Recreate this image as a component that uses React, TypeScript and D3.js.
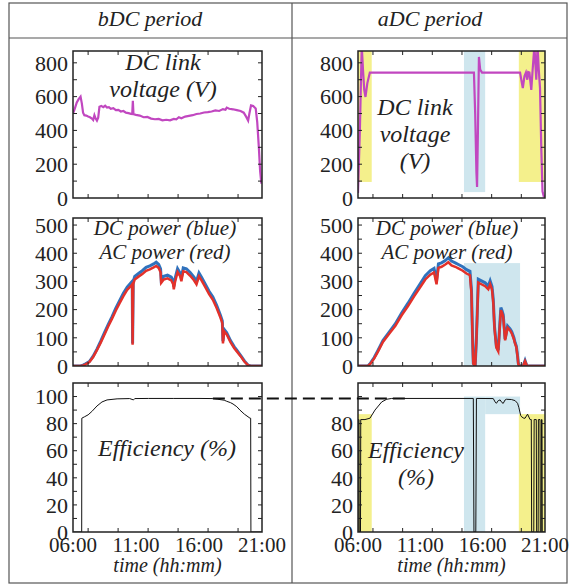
import React from 'react';
import * as d3 from 'd3';

// time axis
const timeTickHours = [6, 11, 16, 21];
const timeTickLabels = ['06:00', '11:00', '16:00', '21:00'];
const timeMinorHours = [7.2, 9.58, 11.96, 14.34, 16.72, 19.1];

// DC link voltage (V)
const bdcVoltage: [number, number][] = [
  [6.0, 500], [6.15, 530], [6.3, 565], [6.45, 585], [6.6, 600], [6.7, 560], [6.8, 505], [6.9, 490],
  [7.05, 488], [7.2, 482], [7.35, 478], [7.5, 470], [7.6, 462], [7.7, 490], [7.8, 470], [7.9, 458],
  [8.0, 475], [8.1, 540], [8.25, 545], [8.4, 538], [8.55, 546], [8.7, 535], [8.85, 538], [9.0, 528],
  [9.2, 532], [9.4, 520], [9.6, 522], [9.8, 512], [10.0, 515], [10.2, 505], [10.4, 502], [10.6, 498],
  [10.7, 497], [10.75, 575], [10.8, 496], [11.0, 492], [11.3, 488], [11.6, 478], [11.9, 480], [12.2, 470],
  [12.5, 466], [12.8, 468], [13.1, 460], [13.4, 463], [13.7, 460], [14.0, 468], [14.2, 466], [14.4, 478],
  [14.6, 472], [14.9, 482], [15.2, 486], [15.5, 490], [15.8, 497], [16.1, 500], [16.4, 506], [16.7, 508],
  [17.0, 512], [17.3, 518], [17.6, 515], [17.9, 526], [18.1, 522], [18.2, 535], [18.4, 528], [18.7, 525],
  [19.0, 520], [19.3, 515], [19.55, 505], [19.75, 480], [19.9, 458], [20.0, 500], [20.13, 548], [20.3, 545],
  [20.5, 530], [20.62, 450], [20.75, 300], [20.85, 160], [20.95, 85],
];
const adcVoltage: [number, number][] = [
  [6.0, 30], [6.15, 400], [6.3, 900], [6.4, 760], [6.5, 640], [6.6, 598], [6.75, 680], [6.95, 742],
  [7.2, 742], [15.3, 742], [15.4, 500], [15.5, 150], [15.55, 65], [15.62, 400], [15.7, 835], [15.8, 760],
  [15.95, 742], [19.0, 742], [19.1, 700], [19.22, 650], [19.35, 720], [19.47, 742], [19.58, 700],
  [19.65, 745], [19.75, 742], [19.9, 640], [20.0, 750], [20.15, 900], [20.3, 700], [20.4, 900],
  [20.5, 760], [20.6, 650], [20.7, 300], [20.8, 40], [20.9, 10], [21.0, 10],
];

// DC (blue) and AC (red) power (W)
const bdcPowerDC: [number, number][] = [
  [6.0, 0], [6.6, 0], [6.8, 3], [7.0, 8], [7.3, 16], [7.6, 35], [7.9, 60], [8.2, 88], [8.5, 118],
  [8.8, 148], [9.1, 175], [9.4, 205], [9.7, 232], [10.0, 258], [10.3, 280], [10.6, 295], [10.7, 300],
  [10.73, 80], [10.78, 300], [10.9, 318], [11.2, 328], [11.5, 338], [11.8, 350], [12.1, 355], [12.4, 362],
  [12.6, 368], [12.8, 360], [12.95, 345], [13.0, 305], [13.2, 318], [13.5, 322], [13.8, 315], [13.95, 300],
  [14.0, 282], [14.1, 310], [14.3, 345], [14.5, 330], [14.6, 312], [14.75, 348], [15.0, 345], [15.3, 332],
  [15.6, 315], [15.8, 300], [16.0, 330], [16.2, 315], [16.5, 290], [16.8, 265], [17.1, 245], [17.4, 215],
  [17.7, 180], [17.85, 160], [17.9, 88], [18.0, 130], [18.2, 118], [18.5, 90], [18.8, 68], [19.0, 56],
  [19.3, 38], [19.6, 18], [19.9, 3], [20.1, 0], [21.0, 0],
];
const bdcPowerAC: [number, number][] = [
  [6.0, 0], [6.6, 0], [6.8, 2], [7.0, 6], [7.3, 14], [7.6, 32], [7.9, 56], [8.2, 83], [8.5, 112],
  [8.8, 141], [9.1, 168], [9.4, 197], [9.7, 223], [10.0, 248], [10.3, 270], [10.6, 284], [10.7, 290],
  [10.73, 75], [10.78, 290], [10.9, 307], [11.2, 317], [11.5, 326], [11.8, 338], [12.1, 343], [12.4, 350],
  [12.6, 355], [12.8, 348], [12.95, 333], [13.0, 295], [13.2, 307], [13.5, 311], [13.8, 304], [13.95, 290],
  [14.0, 272], [14.1, 299], [14.3, 333], [14.5, 319], [14.6, 301], [14.75, 336], [15.0, 333], [15.3, 320],
  [15.6, 304], [15.8, 290], [16.0, 318], [16.2, 304], [16.5, 280], [16.8, 255], [17.1, 235], [17.4, 206],
  [17.7, 172], [17.85, 152], [17.9, 80], [18.0, 123], [18.2, 112], [18.5, 85], [18.8, 63], [19.0, 52],
  [19.3, 35], [19.6, 16], [19.9, 2], [20.1, 0], [21.0, 0],
];
const adcPowerDC: [number, number][] = [
  [6.0, 0], [6.8, 0], [7.0, 10], [7.3, 30], [7.6, 55], [8.0, 90], [8.5, 120], [9.0, 150], [9.5, 188],
  [10.0, 222], [10.5, 258], [11.0, 292], [11.4, 320], [11.8, 338], [12.1, 346], [12.3, 302], [12.45, 362],
  [12.7, 366], [13.0, 374], [13.25, 384], [13.5, 372], [13.8, 366], [14.05, 360], [14.4, 352], [14.7, 342],
  [14.98, 336], [15.1, 272], [15.2, 80], [15.25, 10], [15.4, 0], [15.5, 100], [15.65, 308], [15.9, 302],
  [16.2, 295], [16.45, 284], [16.6, 302], [16.75, 282], [16.85, 236], [16.95, 140], [17.1, 70], [17.25, 56],
  [17.38, 152], [17.46, 207], [17.55, 197], [17.65, 182], [17.8, 96], [18.0, 142], [18.2, 132], [18.33, 122],
  [18.5, 101], [18.6, 83], [18.7, 71], [18.8, 36], [18.86, 9], [18.95, 0], [19.25, 0], [19.4, 19],
  [19.55, 0], [21.0, 0],
];
const adcPowerAC: [number, number][] = [
  [6.0, 0], [6.8, 0], [7.0, 8], [7.3, 27], [7.6, 51], [8.0, 85], [8.5, 114], [9.0, 143], [9.5, 180],
  [10.0, 212], [10.5, 247], [11.0, 280], [11.4, 307], [11.8, 324], [12.1, 332], [12.3, 290], [12.45, 348],
  [12.7, 352], [13.0, 360], [13.25, 368], [13.5, 357], [13.8, 352], [14.05, 346], [14.4, 338], [14.7, 328],
  [14.98, 322], [15.1, 260], [15.2, 75], [15.25, 8], [15.4, 0], [15.5, 95], [15.65, 296], [15.9, 290],
  [16.2, 283], [16.45, 272], [16.6, 290], [16.75, 271], [16.85, 226], [16.95, 133], [17.1, 65], [17.25, 52],
  [17.38, 145], [17.46, 198], [17.55, 189], [17.65, 174], [17.8, 91], [18.0, 136], [18.2, 126], [18.33, 116],
  [18.5, 96], [18.6, 79], [18.7, 67], [18.8, 33], [18.86, 7], [18.95, 0], [19.25, 0], [19.4, 17],
  [19.55, 0], [21.0, 0],
];

// efficiency (%)
const bdcEfficiency: [number, number][] = [
  [6.0, 0], [6.69, 0], [6.7, 84], [6.9, 85], [7.2, 86.5], [7.5, 89], [7.9, 93], [8.3, 96], [8.7, 97.5],
  [9.5, 98.3], [10.5, 98.5], [10.8, 97.5], [10.9, 98.5], [12.0, 98.6], [14.0, 98.6], [16.0, 98.6],
  [17.1, 98.5], [17.5, 98], [18.0, 97.3], [18.2, 96.5], [18.5, 95.5], [18.7, 94.5], [19.0, 92.5],
  [19.25, 90], [19.6, 87], [20.05, 84], [20.1, 84], [20.12, 0], [21.0, 0],
];
const adcEfficiency: [number, number][] = [
  [6.0, 0], [6.02, 83], [6.08, 83], [6.1, 0], [6.2, 0], [6.22, 83], [6.56, 83], [6.96, 84], [7.36, 90],
  [7.9, 96], [8.3, 98], [8.7, 98.6], [15.25, 98.6], [15.3, 0], [15.45, 0], [15.5, 98.6], [16.85, 98.5],
  [17.0, 96], [17.1, 95], [17.25, 97], [17.4, 97.5], [17.55, 95.5], [17.65, 95], [17.8, 97.5], [17.9, 98],
  [18.3, 97.8], [18.6, 97], [18.8, 95], [18.9, 92], [19.05, 86], [19.13, 85], [19.3, 84], [19.4, 84],
  [19.6, 87], [19.8, 83], [19.9, 83], [19.93, 0], [20.1, 0], [20.13, 83], [20.3, 83], [20.33, 0],
  [20.45, 0], [20.47, 83], [20.6, 83], [20.62, 0], [20.7, 0], [20.72, 83], [20.76, 83], [20.78, 0], [21.0, 0],
];
const efficiencyReference = 98.6;

// shaded periods in the aDC column (hours)
const yellowSpans: [number, number][] = [[6.0, 7.1], [18.9, 21.0]];
const blueSpan: [number, number] = [14.5, 16.2];
const blueBandEnd = 19.0;

const FONT = 'Liberation Serif, Tinos, Times New Roman, Times, serif';
const INK = '#222';
const MAGENTA = '#c147c0';
const BLUE = '#2f72bd';
const RED = '#e3312a';
const YELLOW = '#f4f08c';
const LIGHTBLUE = '#cfe6ee';

const cols = [{ x0: 73, x1: 262 }, { x0: 358, x1: 545 }];
const rows = [
  { y0: 51, y1: 198, max: 870, labels: [0, 200, 400, 600, 800], step: 100 },
  { y0: 218, y1: 366, max: 525, labels: [0, 100, 200, 300, 400, 500], step: 50 },
  { y0: 383, y1: 532, max: 110, labels: [0, 20, 40, 60, 80, 100], step: 10 },
];

function Frame({ c, r, id, labels, xLabels, children }: any) {
  const x = d3.scaleLinear().domain([6, 21]).range([c.x0, c.x1]);
  const y = d3.scaleLinear().domain([0, r.max]).range([r.y1, r.y0]);
  const minor = d3.range(r.step, r.max, r.step);
  const tl = 4;
  return (
    <g>
      <clipPath id={id}>
        <rect x={c.x0} y={r.y0} width={c.x1 - c.x0} height={r.y1 - r.y0} />
      </clipPath>
      <g clipPath={`url(#${id})`}>{children(x, y)}</g>
      <rect x={c.x0} y={r.y0} width={c.x1 - c.x0} height={r.y1 - r.y0} fill="none" stroke={INK} strokeWidth={1.5} />
      {minor.map((v: number) => (
        <g key={'m' + v}>
          <line x1={c.x0} x2={c.x0 + tl} y1={y(v)} y2={y(v)} stroke={INK} />
          <line x1={c.x1} x2={c.x1 - tl} y1={y(v)} y2={y(v)} stroke={INK} />
        </g>
      ))}
      {timeMinorHours.map((h) => (
        <g key={'t' + h}>
          <line x1={x(h)} x2={x(h)} y1={r.y1} y2={r.y1 - tl} stroke={INK} />
          <line x1={x(h)} x2={x(h)} y1={r.y0} y2={r.y0 + tl} stroke={INK} />
        </g>
      ))}
      {labels.map((v: number) => (
        <text key={'l' + v} x={c.x0 - 5} y={y(v)} dy="0.35em" textAnchor="end" fontSize={22} fontFamily={FONT} fill={INK}>
          {v}
        </text>
      ))}
      {xLabels &&
        timeTickHours.map((h, i) => (
          <text key={'x' + h} x={x(h)} y={552} textAnchor="middle" fontSize={21} fontFamily={FONT} fill={INK}>
            {timeTickLabels[i]}
          </text>
        ))}
      {xLabels && (
        <text x={(c.x0 + c.x1) / 2} y={572} textAnchor="middle" fontSize={20} fontStyle="italic" fontFamily={FONT} fill={INK}>
          time (hh:mm)
        </text>
      )}
    </g>
  );
}

const path = (x: any, y: any, data: [number, number][]) =>
  d3.line<[number, number]>().x((d) => x(d[0])).y((d) => y(d[1]))(data) || '';

function Note({ x, y, lines, size = 24 }: any) {
  return (
    <text x={x} y={y} textAnchor="middle" fontSize={size} fontStyle="italic" fontFamily={FONT} fill={INK}>
      {lines.map((s: string, i: number) => (
        <tspan key={i} x={x} dy={i === 0 ? 0 : size * 1.12}>
          {s}
        </tspan>
      ))}
    </text>
  );
}

export default function App() {
  const [L, R] = cols;
  const [rv, rp, re] = rows;
  const xl = d3.scaleLinear().domain([6, 21]).range([L.x0, L.x1]);
  const xr = d3.scaleLinear().domain([6, 21]).range([R.x0, R.x1]);
  const ye = d3.scaleLinear().domain([0, re.max]).range([re.y1, re.y0]);
  return (
    <svg width={571} height={585} style={{ position: 'absolute', left: 0, top: 0, background: '#fff' }}>
      <rect x={0} y={0} width={571} height={585} fill="#fff" />
      {/* table */}
      <rect x={9} y={3} width={558} height={580} fill="none" stroke="#555" strokeWidth={1.2} />
      <line x1={9} x2={567} y1={38} y2={38} stroke="#555" strokeWidth={1.2} />
      <line x1={292} x2={292} y1={3} y2={583} stroke="#555" strokeWidth={1.2} />
      <text x={150} y={26} textAnchor="middle" fontSize={22} fontStyle="italic" fontFamily={FONT} fill={INK}>bDC period</text>
      <text x={430} y={26} textAnchor="middle" fontSize={22} fontStyle="italic" fontFamily={FONT} fill={INK}>aDC period</text>

      {/* voltage */}
      <Frame c={L} r={rv} id="c1" labels={rv.labels}>
        {(x: any, y: any) => <path d={path(x, y, bdcVoltage)} fill="none" stroke={MAGENTA} strokeWidth={2.2} />}
      </Frame>
      <Frame c={R} r={rv} id="c2" labels={rv.labels}>
        {(x: any, y: any) => (
          <g>
            {yellowSpans.map((s, i) => (
              <rect key={i} x={x(s[0])} width={x(s[1]) - x(s[0])} y={y(rv.max)} height={y(95) - y(rv.max)} fill={YELLOW} />
            ))}
            <rect x={x(blueSpan[0])} width={x(blueSpan[1]) - x(blueSpan[0])} y={y(rv.max)} height={y(35) - y(rv.max)} fill={LIGHTBLUE} />
            <path d={path(x, y, adcVoltage)} fill="none" stroke={MAGENTA} strokeWidth={2.2} />
          </g>
        )}
      </Frame>
      <Note x={163} y={70} lines={['DC link', 'voltage (V)']} />
      <Note x={415} y={115} lines={['DC link', 'voltage', '(V)']} />

      {/* power */}
      <Frame c={L} r={rp} id="c3" labels={rp.labels}>
        {(x: any, y: any) => (
          <g>
            <path d={path(x, y, bdcPowerDC)} fill="none" stroke={BLUE} strokeWidth={3} />
            <path d={path(x, y, bdcPowerAC)} fill="none" stroke={RED} strokeWidth={2.5} />
          </g>
        )}
      </Frame>
      <Frame c={R} r={rp} id="c4" labels={rp.labels}>
        {(x: any, y: any) => (
          <g>
            <rect x={x(blueSpan[0])} width={x(blueBandEnd) - x(blueSpan[0])} y={y(365)} height={y(0) - y(365)} fill={LIGHTBLUE} />
            <path d={path(x, y, adcPowerDC)} fill="none" stroke={BLUE} strokeWidth={3} />
            <path d={path(x, y, adcPowerAC)} fill="none" stroke={RED} strokeWidth={2.5} />
          </g>
        )}
      </Frame>
      <Note x={165} y={235} size={21} lines={['DC power (blue)', 'AC power (red)']} />
      <Note x={447} y={235} size={21} lines={['DC power (blue)', 'AC power (red)']} />

      {/* efficiency */}
      <Frame c={L} r={re} id="c5" labels={re.labels} xLabels>
        {(x: any, y: any) => <path d={path(x, y, bdcEfficiency)} fill="none" stroke="#111" strokeWidth={1} />}
      </Frame>
      <Frame c={R} r={re} id="c6" labels={re.labels.filter((v) => v < 100)} xLabels>
        {(x: any, y: any) => (
          <g>
            {yellowSpans.map((s, i) => (
              <rect key={i} x={x(s[0])} width={x(s[1]) - x(s[0])} y={y(87)} height={y(0) - y(87)} fill={YELLOW} />
            ))}
            <rect x={x(blueSpan[0])} width={x(blueSpan[1]) - x(blueSpan[0])} y={y(100)} height={y(0) - y(100)} fill={LIGHTBLUE} />
            <rect x={x(blueSpan[1])} width={x(blueBandEnd) - x(blueSpan[1])} y={y(100)} height={y(87) - y(100)} fill={LIGHTBLUE} />
            <path d={path(x, y, adcEfficiency)} fill="none" stroke="#111" strokeWidth={1} />
          </g>
        )}
      </Frame>
      <Note x={167} y={456} lines={['Efficiency (%)']} />
      <Note x={416} y={458} lines={['Efficiency', '(%)']} />
      <line x1={xl(17.1)} x2={xr(9.8)} y1={ye(efficiencyReference)} y2={ye(efficiencyReference)} stroke="#111" strokeWidth={2} strokeDasharray="12 6" />
    </svg>
  );
}
